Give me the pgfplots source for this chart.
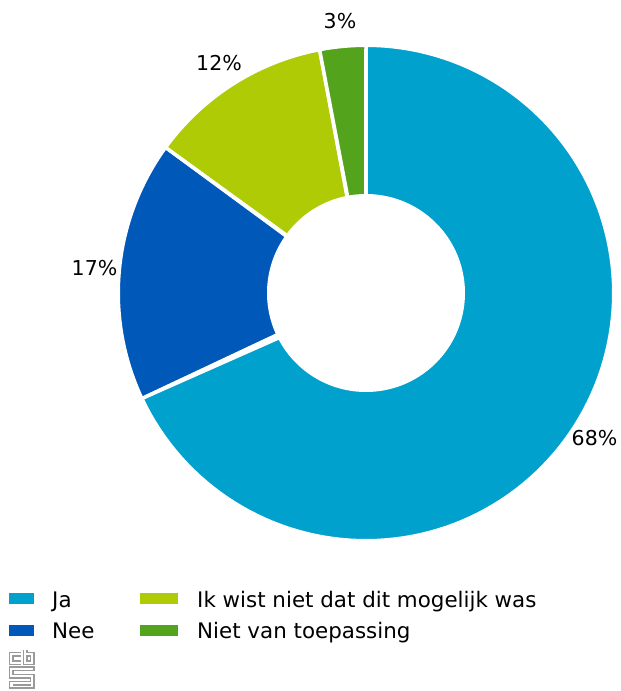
\documentclass[border=0pt]{standalone}
\usepackage{fontspec}
\setmainfont{DejaVu Sans}
\usepackage{pgfplots}
\pgfplotsset{compat=1.18}
\definecolor{cja}{HTML}{00A1CD}
\definecolor{cnee}{HTML}{0058B8}
\definecolor{cik}{HTML}{AFCB05}
\definecolor{cniet}{HTML}{53A31D}
\definecolor{clogo}{HTML}{9A9A9A}
% donut slice: colour, cumulative start %, cumulative end %
\newcommand\sector[3]{%
  \addplot[fill=#1, draw=white, line width=3.5pt, domain=0:2, samples=241, variable=\t]
  ({366 + (\t<1.0001 ? 247.75 : 97.25)*cos(\t<1.0001 ? (90-3.6*#2)+((90-3.6*#3)-(90-3.6*#2))*\t : (90-3.6*#3)+((90-3.6*#2)-(90-3.6*#3))*(\t-1))},
   {293 - (\t<1.0001 ? 247.75 : 97.25)*sin(\t<1.0001 ? (90-3.6*#2)+((90-3.6*#3)-(90-3.6*#2))*\t : (90-3.6*#3)+((90-3.6*#2)-(90-3.6*#3))*(\t-1))}) -- cycle;
}
\newcommand\fs{\fontsize{20.5}{24}\selectfont}
\newcommand\fl{\fontsize{21.4}{25}\selectfont}
\begin{document}
\begin{tikzpicture}
\useasboundingbox (0,0) rectangle (621pt,691pt);
\begin{axis}[
  at={(0,0)}, anchor=south west,
  width=621pt, height=691pt, scale only axis,
  xmin=0, xmax=621, ymin=0, ymax=691, y dir=reverse,
  enlargelimits=false, hide axis, clip=false,
]
% data: Ja 68, Nee 17, Ik wist niet 12, Niet van toepassing 3
\sector{cja}{0}{68}
\sector{cnee}{68}{85}
\sector{cik}{85}{97}
\sector{cniet}{97}{100}
% value labels
\node[anchor=base, font=\fs] at (axis cs:340,28) {3\%};
\node[anchor=base, font=\fs] at (axis cs:219,70) {12\%};
\node[anchor=base, font=\fs] at (axis cs:94.5,275) {17\%};
\node[anchor=base, font=\fs] at (axis cs:594.5,445) {68\%};
% legend
\fill[cja] (axis cs:9,593) rectangle (axis cs:34,604);
\fill[cnee] (axis cs:9,625) rectangle (axis cs:34,636);
\fill[cik] (axis cs:140,593) rectangle (axis cs:178,604);
\fill[cniet] (axis cs:140,625) rectangle (axis cs:178,636);
\node[anchor=base west, font=\fl, inner sep=0pt] at (axis cs:52,607) {Ja};
\node[anchor=base west, font=\fl, inner sep=0pt] at (axis cs:52,638) {Nee};
\node[anchor=base west, font=\fl, inner sep=0pt] at (axis cs:197,607) {Ik wist niet dat dit mogelijk was};
\node[anchor=base west, font=\fl, inner sep=0pt] at (axis cs:197,638) {Niet van toepassing};
% logo
\draw[clogo, line width=1.3pt]
  (axis cs:21,652.5) -- (axis cs:9.5,652.5) -- (axis cs:9.5,664.5) -- (axis cs:21,664.5)
  (axis cs:21,656) -- (axis cs:13,656) -- (axis cs:13,661) -- (axis cs:21,661)
  (axis cs:23.5,650) -- (axis cs:23.5,664.5) -- (axis cs:34,664.5) -- (axis cs:34,652.5) -- (axis cs:27,652.5) -- (axis cs:27,650)
  (axis cs:27,656) -- (axis cs:30.5,656) -- (axis cs:30.5,661) -- (axis cs:27,661) -- cycle
  (axis cs:34,667) -- (axis cs:9.5,667) -- (axis cs:9.5,678) -- (axis cs:30.5,678) -- (axis cs:30.5,681.5) -- (axis cs:9.5,681.5) -- (axis cs:9.5,688) -- (axis cs:34,688) -- (axis cs:34,674.5) -- (axis cs:13,674.5) -- (axis cs:13,670.5) -- (axis cs:34,670.5) -- cycle
  (axis cs:13,685) -- (axis cs:30.5,685);
\end{axis}
\end{tikzpicture}
\end{document}
